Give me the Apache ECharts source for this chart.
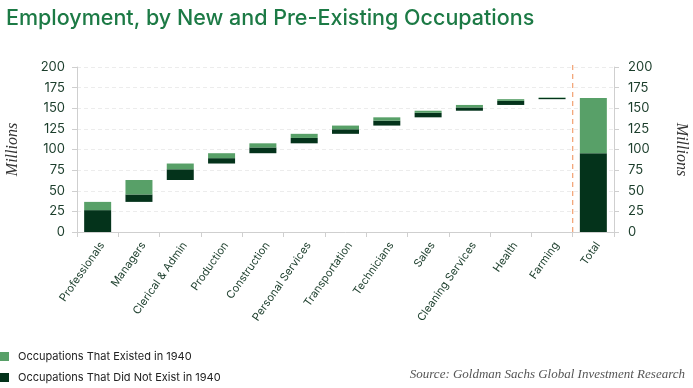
<!DOCTYPE html>
<html>
<head>
<meta charset="utf-8">
<script src="https://cdn.jsdelivr.net/npm/echarts@6/dist/echarts.min.js"></script>
<style>
html,body{margin:0;padding:0;background:#fff;}
#chart{width:693px;height:388px;}
</style>
</head>
<body>
<div id="chart"></div>
<script>
const categories = ['Professionals','Managers','Clerical & Admin','Production','Construction','Personal Services','Transportation','Technicians','Sales','Cleaning Services','Health','Farming','Total'];
const notExisted = [26.5, 9, 13, 6.5, 7, 6.5, 5.5, 6, 5.5, 4, 5, 1.5, 95.5];
const existed = [10, 17.5, 7, 6, 5, 5, 4.5, 4, 2.5, 3, 2, 0.5, 67];
const yTicks = [0, 25, 50, 75, 100, 125, 150, 175, 200];
const dividerAt = 12;      // boundary between Farming and Total (category units)
const dividerTop = 207;    // dashed divider extends slightly above the top tick

// waterfall base: running total of preceding categories (Total starts at 0)
const base = [];
let run = 0;
for (let i = 0; i < categories.length; i++) {
  if (categories[i] === 'Total') { base.push(0); }
  else { base.push(run); run += notExisted[i] + existed[i]; }
}

const LIGHT = '#58a068';
const DARK = '#04331b';
const TXT = '#1b3d2b';
const FONT = 'Inter, "Noto Sans", sans-serif';
const SERIF = '"Liberation Serif", "DejaVu Serif", serif';

const chart = echarts.init(document.getElementById('chart'), null, {renderer: 'canvas'});
chart.setOption({
  animation: false,
  backgroundColor: '#fff',
  title: [
    {text: 'Employment, by New and Pre-Existing Occupations', left: 1, top: 3,
     textStyle: {color: '#1c7a45', fontSize: 21.5, fontWeight: 500, fontFamily: FONT}},
    {text: 'Source: Goldman Sachs Global Investment Research', right: 3, bottom: 2,
     textStyle: {color: '#555', fontSize: 13, fontStyle: 'italic', fontWeight: 'normal', fontFamily: SERIF}}
  ],
  legend: {
    orient: 'vertical', left: 0, top: 351, padding: 0, itemGap: 10,
    itemWidth: 9, itemHeight: 9, icon: 'rect',
    data: ['Occupations That Existed in 1940', 'Occupations That Did Not Exist in 1940'],
    textStyle: {color: '#222', fontSize: 11, fontFamily: FONT, padding: [0, 0, 0, 4]}
  },
  grid: {left: 77, right: 79, top: 67, bottom: 156, outerBoundsMode: 'none', containLabel: false},
  xAxis: [
    {type: 'category', data: categories, boundaryGap: true,
     axisLine: {lineStyle: {color: '#cfcfcf'}},
     axisTick: {show: true, length: 5, lineStyle: {color: '#cfcfcf'}},
     axisLabel: {rotate: 55, color: TXT, fontSize: 11, fontFamily: FONT, margin: 8, interval: 0,
                 align: 'right', verticalAlign: 'top'},
     splitLine: {show: false}},
    {type: 'value', min: 0, max: categories.length, show: false}
  ],
  yAxis: [
    {type: 'value', min: yTicks[0], max: yTicks[yTicks.length - 1], interval: 25, position: 'left',
     name: 'Millions', nameLocation: 'middle', nameGap: 56, nameRotate: 90,
     nameTextStyle: {color: '#333', fontSize: 16, fontStyle: 'italic', fontFamily: SERIF},
     axisLine: {show: true, lineStyle: {color: '#cfcfcf'}},
     axisTick: {show: true, length: 5, lineStyle: {color: '#cfcfcf'}},
     axisLabel: {color: TXT, fontSize: 13, fontFamily: FONT, margin: 12},
     splitLine: {show: true, lineStyle: {color: '#ececec', type: [4, 3]}}},
    {type: 'value', min: yTicks[0], max: yTicks[yTicks.length - 1], interval: 25, position: 'right',
     name: 'Millions', nameLocation: 'middle', nameGap: 59, nameRotate: -90,
     nameTextStyle: {color: '#333', fontSize: 16, fontStyle: 'italic', fontFamily: SERIF},
     axisLine: {show: true, lineStyle: {color: '#cfcfcf'}},
     axisTick: {show: true, length: 5, lineStyle: {color: '#cfcfcf'}},
     axisLabel: {color: TXT, fontSize: 13, fontFamily: FONT, margin: 14},
     splitLine: {show: false}}
  ],
  series: [
    {name: 'base', type: 'bar', stack: 'w', data: base, barWidth: 27,
     itemStyle: {color: 'transparent'}, emphasis: {disabled: true}, silent: true},
    {name: 'Occupations That Did Not Exist in 1940', type: 'bar', stack: 'w', data: notExisted, barWidth: 27,
     itemStyle: {color: DARK}},
    {name: 'Occupations That Existed in 1940', type: 'bar', stack: 'w', data: existed, barWidth: 27,
     itemStyle: {color: LIGHT}},
    {name: 'divider', type: 'line', xAxisIndex: 1, yAxisIndex: 0, clip: false, silent: true,
     symbol: 'none', showSymbol: false, z: 1,
     data: [[dividerAt, 0], [dividerAt, dividerTop]],
     lineStyle: {color: '#f2a070', type: [5, 4], width: 1.2}}
  ]
});
</script>
</body>
</html>
